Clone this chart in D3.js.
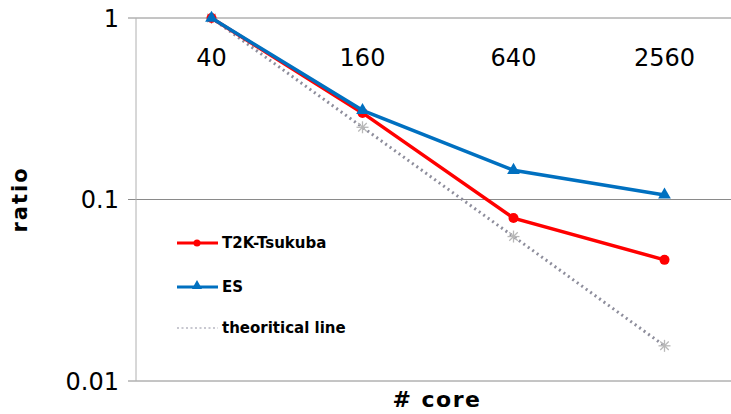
<!DOCTYPE html>
<html>
<head>
<meta charset="utf-8">
<script src="https://cdn.jsdelivr.net/npm/d3@7"></script>
<style>
  body { margin: 0; background: #fff; }
  svg { display: block; font-family: "DejaVu Sans", Verdana, sans-serif; }
</style>
</head>
<body>
<div id="chart"></div>
<script>
const cores = ['40', '160', '640', '2560'];
const t2k = [1, 0.30, 0.079, 0.0465];
const es = [1, 0.31, 0.145, 0.106];
const theory = [1, 0.25, 0.0625, 0.015625];
const yTicks = [1, 0.1, 0.01];

const width = 731, height = 414;
const margin = { top: 18, right: -9, bottom: 33, left: 136 };

const svg = d3.select('#chart').append('svg')
  .attr('width', width)
  .attr('height', height);

const x = d3.scaleBand()
  .domain(cores)
  .range([margin.left, width - margin.right]);

const y = d3.scaleLog()
  .domain([0.01, 1])
  .range([height - margin.bottom, margin.top]);

// Gridlines
svg.append('g')
  .selectAll('line')
  .data(yTicks)
  .enter().append('line')
  .attr('x1', margin.left - 8)
  .attr('x2', width)
  .attr('y1', d => y(d))
  .attr('y2', d => y(d))
  .style('stroke', '#8a8a8a')
  .style('stroke-width', '1px');

// Y axis line
svg.append('line')
  .attr('x1', margin.left)
  .attr('x2', margin.left)
  .attr('y1', y(1))
  .attr('y2', y(0.01))
  .style('stroke', '#b0b0b0')
  .style('stroke-width', '1px');

// Y tick labels
svg.append('g')
  .selectAll('text')
  .data(yTicks)
  .enter().append('text')
  .attr('x', 119)
  .attr('y', d => y(d))
  .attr('dy', '0.36em')
  .attr('text-anchor', 'end')
  .text(d => d)
  .style('font-size', '24px')
  .style('fill', '#000');

// Category labels (drawn under the top gridline)
svg.append('g')
  .selectAll('text')
  .data(cores)
  .enter().append('text')
  .attr('x', d => x(d) + x.bandwidth() / 2)
  .attr('y', 57)
  .attr('dy', '0.36em')
  .attr('text-anchor', 'middle')
  .text(d => d)
  .style('font-size', '24px')
  .style('fill', '#000');

// Axis titles
svg.append('text')
  .attr('transform', `translate(27,${y(0.1)}) rotate(-90)`)
  .attr('text-anchor', 'middle')
  .text('ratio')
  .style('font-size', '21px')
  .style('letter-spacing', '2px')
  .style('font-weight', 'bold');

svg.append('text')
  .attr('x', 437)
  .attr('y', 399)
  .attr('dy', '0.36em')
  .attr('text-anchor', 'middle')
  .text('# core')
  .style('font-size', '22px')
  .style('letter-spacing', '1.5px')
  .style('font-weight', 'bold');

const line = d3.line()
  .x((d, i) => x(cores[i]) + x.bandwidth() / 2)
  .y(d => y(d));

// Series
const series = [
  { name: 'theoritical line', values: theory, color: '#8e8e9c', width: 3, dash: '2,3.5', marker: 'star' },
  { name: 'T2K-Tsukuba', values: t2k, color: '#ff0000', width: 3.5, dash: null, marker: 'circle' },
  { name: 'ES', values: es, color: '#0070c0', width: 3.5, dash: null, marker: 'triangle' }
];

function drawMarker(g, type, cx, cy, color) {
  if (type === 'circle') {
    g.append('circle').attr('cx', cx).attr('cy', cy).attr('r', 5)
      .style('fill', color);
  } else if (type === 'triangle') {
    g.append('path')
      .attr('d', d3.symbol(d3.symbolTriangle, 70)())
      .attr('transform', `translate(${cx},${cy})`)
      .style('fill', color);
  } else {
    const r = 6;
    const s = g.append('g').attr('transform', `translate(${cx},${cy})`)
      .style('stroke', '#b8b8b8').style('stroke-width', '1.3px');
    [0, 45, 90, 135].forEach(a => {
      const rad = a * Math.PI / 180;
      s.append('line')
        .attr('x1', -r * Math.cos(rad)).attr('y1', -r * Math.sin(rad))
        .attr('x2', r * Math.cos(rad)).attr('y2', r * Math.sin(rad));
    });
  }
}

series.forEach(s => {
  svg.append('path')
    .datum(s.values)
    .attr('d', line)
    .style('fill', 'none')
    .style('stroke', s.color)
    .style('stroke-width', s.width + 'px')
    .style('stroke-dasharray', s.dash);
  const g = svg.append('g');
  s.values.forEach((v, i) => {
    drawMarker(g, s.marker, x(cores[i]) + x.bandwidth() / 2, y(v), s.color);
  });
});

// Legend
const legendItems = [
  { name: 'T2K-Tsukuba', color: '#ff0000', dash: null, marker: 'circle', y: 243 },
  { name: 'ES', color: '#0070c0', dash: null, marker: 'triangle', y: 287 },
  { name: 'theoritical line', color: '#c8c8d0', dash: '2,2.5', marker: null, y: 328 }
];
const legend = svg.append('g');
legendItems.forEach(d => {
  legend.append('line')
    .attr('x1', 177).attr('x2', 218)
    .attr('y1', d.y).attr('y2', d.y)
    .style('stroke', d.color)
    .style('stroke-width', d.dash ? '2px' : '3px')
    .style('stroke-dasharray', d.dash);
  if (d.marker === 'circle') {
    legend.append('circle').attr('cx', 197).attr('cy', d.y).attr('r', 3.5).style('fill', d.color);
  } else if (d.marker === 'triangle') {
    legend.append('path')
      .attr('d', d3.symbol(d3.symbolTriangle, 45)())
      .attr('transform', `translate(197,${d.y - 1})`)
      .style('fill', d.color);
  }
  legend.append('text')
    .attr('x', 222)
    .attr('y', d.y)
    .attr('dy', '0.36em')
    .text(d.name)
    .style('font-size', '15px')
    .style('font-weight', 'bold')
    .style('fill', '#000');
});
</script>
</body>
</html>
